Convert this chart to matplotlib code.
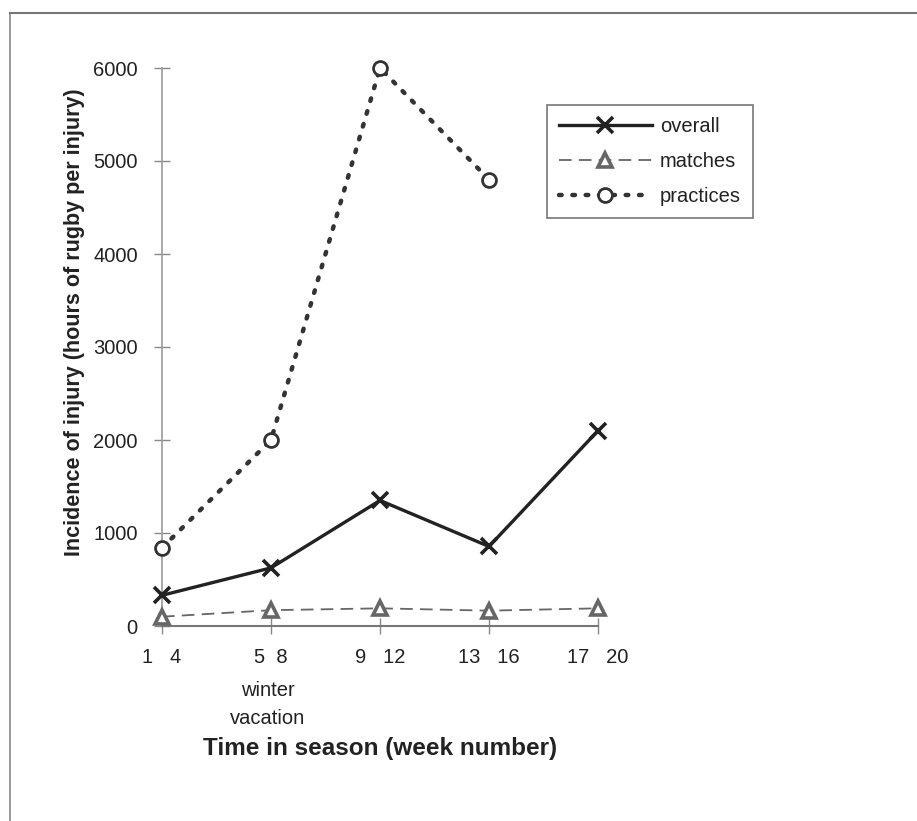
import matplotlib
matplotlib.use("Agg")
import matplotlib.pyplot as plt
from matplotlib.lines import Line2D
import numpy as np

plt.rcParams['font.family'] = ['Liberation Sans', 'DejaVu Sans']

# week blocks (category axis)
week_labels = ["1   4", "5  8", "9   12", "13   16", "17   20"]
overall = [330, 625, 1350, 855, 2100]
matches = [100, 170, 190, 165, 190]
practices = [840, 2000, 6000, 4800, np.nan]

W, H = 917, 821
fig = plt.figure(figsize=(W / 100, H / 100), dpi=100)
ax = fig.add_axes([162 / W, (H - 626) / H, 436 / W, 558 / H])

x = np.arange(len(week_labels))

ax.plot(x, overall, color='#222222', lw=2.4, marker='x', ms=11, mew=2.6,
        label='overall', clip_on=False, zorder=4)
ax.plot(x, matches, color='#666666', lw=1.3, ls=(0, (7, 4)), marker='^', ms=10,
        mfc='white', mec='#666666', mew=2.6, label='matches', clip_on=False, zorder=3)
ax.plot(x, practices, color='#333333', lw=3.2, ls=(0, (0.6, 2.4)), dash_capstyle='round',
        marker='o', ms=10, mfc='white', mec='#333333', mew=2, label='practices',
        clip_on=False, zorder=5)

ax.set_xlim(0, 4)
ax.set_ylim(0, 6000)
ax.set_yticks(range(0, 6001, 1000))
ax.set_xticks(x)
ax.set_xticklabels(week_labels)

for s in ['top', 'right']:
    ax.spines[s].set_visible(False)
ax.spines['left'].set_color('#9a9a9a')
ax.spines['bottom'].set_color('#777777')
ax.spines['left'].set_linewidth(1.2)
ax.spines['bottom'].set_linewidth(1.5)
ax.tick_params(axis='both', direction='inout', length=11, width=1, colors='#888888',
               labelcolor='#222222', labelsize=14.5)
ax.tick_params(axis='x', pad=10)
ax.tick_params(axis='y', pad=12)

fig.text(268 / W, 1 - 704 / H, "winter\nvacation", ha='center', va='center',
         fontsize=14.5, color='#222222', linespacing=1.6)

fig.text(75 / W, 1 - 322 / H, "Incidence of injury (hours of rugby per injury)",
         rotation=90, ha='center', va='center', fontsize=15.5, fontweight='bold',
         color='#222222', family=['Liberation Sans Narrow', 'Liberation Sans'])
fig.text(380 / W, 1 - 748 / H, "Time in season (week number)", ha='center', va='center',
         fontsize=17.5, fontweight='bold', color='#222222')

leg = ax.legend(loc='upper left', bbox_to_anchor=(547 / W, 1 - 105 / H),
                bbox_transform=fig.transFigure, borderaxespad=0, fontsize=14.5,
                handlelength=4.6, handletextpad=0.4, labelspacing=0.8,
                borderpad=0.6, fancybox=False, framealpha=1)
leg.get_frame().set_edgecolor('#777777')
leg.get_frame().set_linewidth(1.2)
for t in leg.get_texts():
    t.set_color('#222222')

# scanned page frame
fig.add_artist(Line2D([10 / W, 10 / W], [0, 1 - 13 / H], transform=fig.transFigure,
                      color='#888888', lw=1.2))
fig.add_artist(Line2D([10 / W, 1], [1 - 13 / H, 1 - 13 / H], transform=fig.transFigure,
                      color='#777777', lw=1.5))

fig.savefig("out.png", dpi=100)
